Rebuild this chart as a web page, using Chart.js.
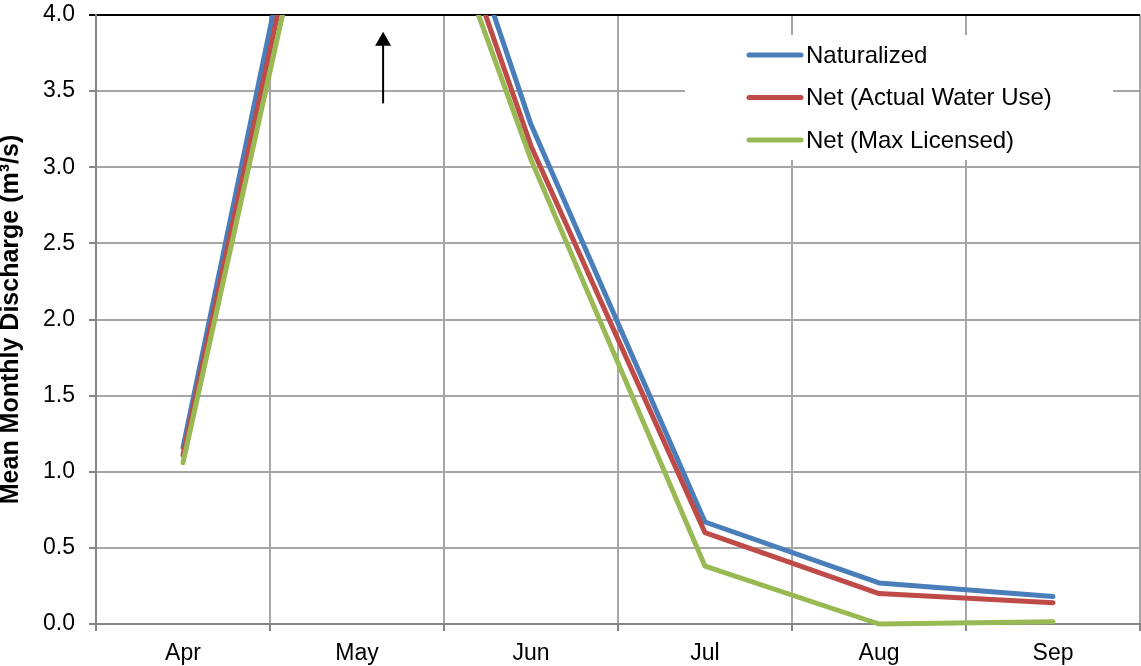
<!DOCTYPE html>
<html>
<head>
<meta charset="utf-8">
<script src="https://cdn.jsdelivr.net/npm/chart.js@4/dist/chart.umd.min.js"></script>
<style>
  html, body { margin: 0; padding: 0; background: #ffffff; }
  #wrap { width: 1141px; height: 666px; }
</style>
</head>
<body>
<div id="wrap"><canvas id="c" width="1141" height="666"></canvas></div>
<script>
const months = ["Apr", "May", "Jun", "Jul", "Aug", "Sep"];
const naturalized = [1.16, 6.66, 3.28, 0.67, 0.27, 0.18];
const netActual   = [1.11, 6.43, 3.14, 0.60, 0.20, 0.14];
const netMax      = [1.06, 6.20, 3.05, 0.38, 0.00, 0.015];
const seriesNames = ["Naturalized", "Net (Actual Water Use)", "Net (Max Licensed)"];
const seriesColors = ["#4a7ebb", "#be4b48", "#98b954"];
const yTitle = "Mean Monthly Discharge (m\u00b3/s)";
const yMin = 0, yMax = 4, yStep = 0.5;
const arrowFrom = 3.42, arrowTo = 3.89;   // annotation arrow (y values) near May

const FONT = "'Liberation Sans', Arial, sans-serif";

const legendPlugin = {
  id: 'insideLegend',
  afterDatasetsDraw(chart) {
    const ctx = chart.ctx, a = chart.chartArea;
    const boxL = a.right - 455, boxR = a.right - 27, boxT = a.top + 20, boxB = a.top + 145;
    ctx.save();
    ctx.fillStyle = '#ffffff';
    ctx.fillRect(boxL, boxT, boxR - boxL, boxB - boxT);
    ctx.font = "24px " + FONT;
    ctx.textBaseline = 'middle';
    ctx.textAlign = 'left';
    chart.data.datasets.forEach((ds, i) => {
      const y = a.top + 40 + i * 42.5;
      ctx.strokeStyle = ds.borderColor;
      ctx.lineWidth = 5;
      ctx.lineCap = 'round';
      ctx.beginPath();
      ctx.moveTo(boxL + 64, y);
      ctx.lineTo(boxL + 116, y);
      ctx.stroke();
      ctx.fillStyle = '#000000';
      ctx.fillText(ds.label, boxL + 121, y + 1);
    });
    ctx.restore();
  }
};

const arrowPlugin = {
  id: 'arrowNote',
  afterDatasetsDraw(chart) {
    const ctx = chart.ctx;
    const xs = chart.scales.x, ys = chart.scales.y;
    const x = xs.getPixelForValue(1) + 0.15 * (xs.getPixelForValue(2) - xs.getPixelForValue(1));
    const y0 = ys.getPixelForValue(arrowFrom);
    const y1 = ys.getPixelForValue(arrowTo);
    ctx.save();
    ctx.strokeStyle = '#000000';
    ctx.fillStyle = '#000000';
    ctx.lineWidth = 2;
    ctx.beginPath();
    ctx.moveTo(x, y0);
    ctx.lineTo(x, y1 + 10);
    ctx.stroke();
    ctx.beginPath();
    ctx.moveTo(x, y1);
    ctx.lineTo(x - 8, y1 + 14);
    ctx.lineTo(x + 8, y1 + 14);
    ctx.closePath();
    ctx.fill();
    ctx.restore();
  }
};

const datasets = [naturalized, netActual, netMax].map((vals, i) => ({
  label: seriesNames[i],
  data: vals,
  borderColor: seriesColors[i],
  backgroundColor: seriesColors[i],
  borderWidth: 5,
  pointRadius: 0,
  pointHoverRadius: 0,
  tension: 0,
  borderCapStyle: 'round',
  borderJoinStyle: 'round',
  fill: false,
  order: 3 - i,
  clip: {left: 10, top: 0, right: 10, bottom: 10}
}));

new Chart(document.getElementById('c'), {
  type: 'line',
  data: { labels: months, datasets: datasets },
  options: {
    responsive: false,
    animation: false,
    devicePixelRatio: 1,
    layout: { padding: { top: 15, right: 1, left: 0, bottom: 0 } },
    plugins: { legend: { display: false }, tooltip: { enabled: false } },
    scales: {
      x: {
        type: 'category',
        offset: true,
        grid: {
          offset: true,
          color: '#a6a6a6',
          lineWidth: 2,
          tickLength: 7,
          tickColor: '#868686',
          drawTicks: true
        },
        border: { display: true, color: '#868686', width: 2 },
        ticks: {
          color: '#000000',
          font: { family: FONT, size: 23 },
          padding: 9,
          maxRotation: 0
        },
        afterFit(scale) { scale.height = 42; scale.paddingLeft = 0; scale.paddingRight = 0; }
      },
      y: {
        min: yMin,
        max: yMax,
        grid: {
          color: (c) => (c.tick && c.tick.value === yMax) ? '#000000' : '#a6a6a6',
          lineWidth: 2,
          tickLength: 7,
          tickColor: (c) => (c.tick && c.tick.value === yMax) ? '#000000' : '#868686'
        },
        border: { display: true, color: '#868686', width: 2 },
        ticks: {
          stepSize: yStep,
          color: '#000000',
          font: { family: FONT, size: 23 },
          padding: 14,
          callback: (v) => Number(v).toFixed(1)
        },
        title: {
          display: true,
          text: yTitle,
          color: '#000000',
          font: { family: FONT, size: 25, weight: 'bold', lineHeight: 0.85 },
          padding: 0
        },
        afterFit(scale) { scale.width = 96; scale.paddingTop = 0; scale.paddingBottom = 0; }
      }
    }
  },
  plugins: [legendPlugin, arrowPlugin]
});
</script>
</body>
</html>
